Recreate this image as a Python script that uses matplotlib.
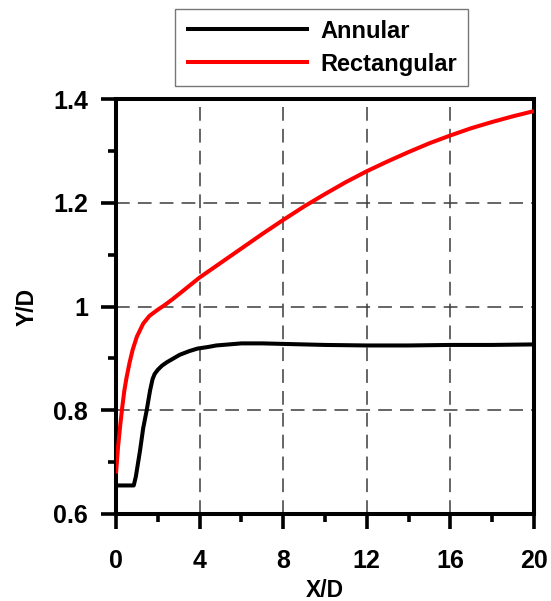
import matplotlib
matplotlib.use("Agg")
import matplotlib.pyplot as plt
from matplotlib.ticker import FixedLocator

plt.rcParams['font.family'] = ['Liberation Sans', 'DejaVu Sans']
plt.rcParams['font.weight'] = 'bold'

# Jet trajectory (Y/D vs X/D)
annular_x = [0, 0.85, 0.95, 1.15, 1.3, 1.47, 1.63, 1.75, 1.85, 2.0, 2.2, 2.45, 2.75,
             3.05, 3.5, 3.9, 4.4, 4.8, 5.4, 6.0, 7.0, 8.0, 9.0, 10.0, 12.0, 14.0,
             16.0, 18.0, 20.0]
annular_y = [0.655, 0.655, 0.672, 0.722, 0.765, 0.80, 0.838, 0.860, 0.870, 0.878,
             0.886, 0.893, 0.900, 0.907, 0.914, 0.919, 0.922, 0.925, 0.927, 0.929,
             0.929, 0.928, 0.927, 0.926, 0.925, 0.925, 0.926, 0.926, 0.927]

rect_x = [0, 0.1, 0.2, 0.3, 0.4, 0.5, 0.65, 0.8, 1.0, 1.3, 1.6, 2.0, 2.3, 2.7, 3.2,
          4.0, 5.0, 6.0, 7.0, 8.0, 9.0, 10.0, 11.0, 12.0, 13.0, 14.0, 15.0, 16.0,
          17.0, 18.0, 19.0, 20.0]
rect_y = [0.678, 0.73, 0.77, 0.806, 0.838, 0.862, 0.892, 0.917, 0.942, 0.967, 0.982,
          0.994, 1.002, 1.014, 1.030, 1.056, 1.084, 1.112, 1.140, 1.167, 1.193, 1.217,
          1.240, 1.261, 1.280, 1.298, 1.315, 1.330, 1.344, 1.356, 1.367, 1.377]

x_ticks = [0, 4, 8, 12, 16, 20]
x_tick_labels = ['0', '4', '8', '12', '16', '20']
x_minor = [2, 6, 10, 14, 18]
y_ticks = [0.6, 0.8, 1.0, 1.2, 1.4]
y_tick_labels = ['0.6', '0.8', '1', '1.2', '1.4']
y_minor = [0.7, 0.9, 1.1, 1.3]

fig = plt.figure(figsize=(5.51, 6.01), dpi=100)
ax = fig.add_axes([0.2105, 0.1448, 0.7585, 0.6902])

line_kw = dict(lw=2.9, solid_capstyle='butt', solid_joinstyle='round', zorder=3)
ax.plot(annular_x, annular_y, color='black', label='Annular', **line_kw)
ax.plot(rect_x, rect_y, color='#ff0000', label='Rectangular', **line_kw)

ax.set_xlim(0, 20)
ax.set_ylim(0.6, 1.4)
ax.set_xticks(x_ticks)
ax.set_xticklabels(x_tick_labels)
ax.set_yticks(y_ticks)
ax.set_yticklabels(y_tick_labels)
ax.xaxis.set_minor_locator(FixedLocator(x_minor))
ax.yaxis.set_minor_locator(FixedLocator(y_minor))

ax.grid(True, which='major', color='#3c3c3c', lw=1.1, linestyle=(0, (9, 5.3)))
ax.set_axisbelow(True)

for s in ax.spines.values():
    s.set_linewidth(2.9)
ax.tick_params(which='major', direction='out', length=11, width=2.6,
               labelsize=18)
ax.tick_params(axis='y', which='major', pad=9)
ax.tick_params(axis='x', which='major', pad=14)
ax.tick_params(which='minor', direction='out', length=6, width=2.6)

ax.set_xlabel('X/D', fontsize=16.5, fontweight='bold')
ax.set_ylabel('Y/D', fontsize=16.5, fontweight='bold')
ax.xaxis.set_label_coords(0.5, -0.1566)
ax.yaxis.set_label_coords(-0.184, 0.5)
ax.xaxis.label.set_va('top')

leg = fig.legend(loc='upper center', bbox_to_anchor=(0.584, 1 - 9 / 601),
                 fontsize=17, handlelength=5.2, handletextpad=0.5,
                 frameon=True, fancybox=False, borderpad=0.45, labelspacing=0.42,
                 borderaxespad=0, edgecolor='#555555')
leg.get_frame().set_linewidth(1.0)
for t in leg.get_texts():
    t.set_fontweight('bold')

fig.savefig('out.png', dpi=100)
